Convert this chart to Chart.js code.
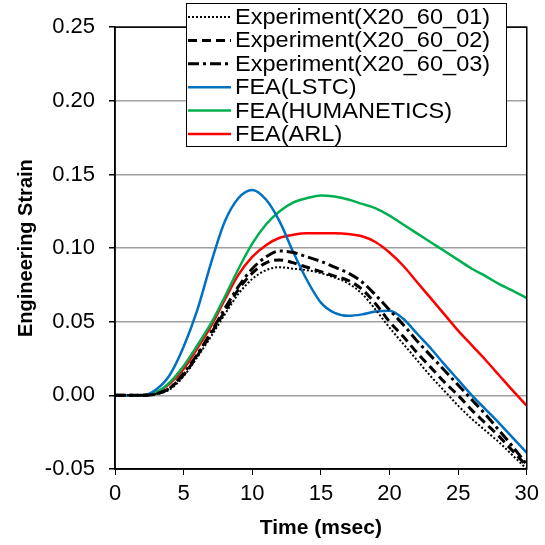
<!DOCTYPE html>
<html>
<head>
<meta charset="utf-8">
<script src="https://cdn.jsdelivr.net/npm/chart.js@4/dist/chart.umd.min.js"></script>
<style>
  html, body { margin: 0; padding: 0; background: #fff; }
  #wrap { width: 545px; height: 545px; }
</style>
</head>
<body>
<div id="wrap"><canvas id="chart" width="545" height="545"></canvas></div>
<script>
// time axis (msec) shared by every series
const TIME = [0, 1, 2, 3, 4, 5, 6, 7, 8, 9, 10, 11, 12, 13, 14, 15, 16, 17, 18, 19, 20, 21, 22, 23, 24, 25, 26, 27, 28, 29, 30];

// strain values
const EXP_01 = [0, 0, 0, 0.001, 0.004, 0.013, 0.026, 0.040, 0.055, 0.069, 0.079, 0.085, 0.087, 0.086, 0.085, 0.083, 0.080, 0.076, 0.069, 0.058, 0.046, 0.035, 0.024, 0.013, 0.003, -0.007, -0.016, -0.024, -0.032, -0.041, -0.050];
const EXP_02 = [0, 0, 0, 0.001, 0.005, 0.014, 0.027, 0.042, 0.057, 0.072, 0.083, 0.090, 0.092, 0.090, 0.087, 0.084, 0.081, 0.078, 0.072, 0.062, 0.050, 0.040, 0.029, 0.019, 0.009, 0.000, -0.010, -0.019, -0.028, -0.038, -0.048];
const EXP_03 = [0, 0, 0, 0.001, 0.005, 0.015, 0.028, 0.043, 0.059, 0.074, 0.086, 0.094, 0.098, 0.097, 0.094, 0.091, 0.087, 0.083, 0.077, 0.068, 0.058, 0.048, 0.037, 0.027, 0.017, 0.007, -0.003, -0.013, -0.024, -0.035, -0.047];
const FEA_LSTC = [0, 0, 0, 0.004, 0.014, 0.033, 0.058, 0.090, 0.118, 0.134, 0.1395, 0.133, 0.118, 0.097, 0.078, 0.063, 0.056, 0.054, 0.055, 0.057, 0.0575, 0.052, 0.042, 0.032, 0.021, 0.0105, 0.000, -0.0095, -0.019, -0.029, -0.039];
const FEA_HUMANETICS = [0, 0, 0, 0.002, 0.009, 0.020, 0.034, 0.049, 0.067, 0.086, 0.103, 0.116, 0.125, 0.131, 0.134, 0.1358, 0.135, 0.133, 0.130, 0.127, 0.122, 0.116, 0.110, 0.104, 0.098, 0.092, 0.086, 0.081, 0.0755, 0.071, 0.066];
const FEA_ARL = [0, 0, 0, 0.002, 0.008, 0.018, 0.032, 0.047, 0.065, 0.082, 0.094, 0.102, 0.107, 0.109, 0.110, 0.110, 0.110, 0.1095, 0.108, 0.104, 0.097, 0.088, 0.077, 0.066, 0.055, 0.044, 0.034, 0.024, 0.0135, 0.003, -0.007];

const LABELS = ['Experiment(X20_60_01)', 'Experiment(X20_60_02)', 'Experiment(X20_60_03)', 'FEA(LSTC)', 'FEA(HUMANETICS)', 'FEA(ARL)'];
const X_TITLE = 'Time (msec)';
const Y_TITLE = 'Engineering Strain';

const BLUE = '#0070C0', GREEN = '#00B050', RED = '#FF0000', BLACK = '#000000';
const FONT = "'Liberation Sans', Arial, sans-serif";

const pts = (vals) => TIME.map((t, i) => ({ x: t, y: vals[i] }));
const line = (label, vals, color, width, dash) => ({
  label, data: pts(vals), borderColor: color, borderWidth: width, borderDash: dash,
  pointRadius: 0, fill: false, cubicInterpolationMode: 'monotone',
});

// legend box drawn over the top of the plot, Excel style
const boxLegend = {
  id: 'boxLegend',
  afterDraw(chart) {
    const ctx = chart.ctx;
    const left = 186, top = 3, right = 506, bottom = 146, rowH = 23.4;
    ctx.save();
    ctx.fillStyle = '#fff';
    ctx.fillRect(left, top, right - left, bottom - top);
    ctx.strokeStyle = '#000'; ctx.lineWidth = 1;
    ctx.strokeRect(left + 0.5, top + 0.5, right - left, bottom - top);
    ctx.font = '22px ' + FONT;
    ctx.textBaseline = 'middle';
    chart.data.datasets.forEach((ds, i) => {
      const y = top + 14 + i * rowH;
      ctx.beginPath();
      ctx.setLineDash(ds.borderDash || []);
      ctx.strokeStyle = ds.borderColor; ctx.lineWidth = ds.borderWidth;
      ctx.moveTo(188, y); ctx.lineTo(231, y); ctx.stroke();
      ctx.setLineDash([]);
      ctx.fillStyle = '#000';
      // the source text is a little stretched sideways
      ctx.save();
      ctx.translate(235, y + 1);
      ctx.scale(1.07, 1);
      ctx.fillText(ds.label, 0, 0);
      ctx.restore();
    });
    ctx.restore();
  },
};

// black frame round the plot area
const frame = {
  id: 'frame',
  afterDatasetsDraw(chart) {
    const { ctx, chartArea: a } = chart;
    ctx.save();
    ctx.strokeStyle = '#000'; ctx.lineWidth = 1.5;
    ctx.strokeRect(a.left, a.top, a.right - a.left, a.bottom - a.top);
    ctx.restore();
  },
};

new Chart(document.getElementById('chart'), {
  type: 'line',
  data: {
    datasets: [
      line(LABELS[0], EXP_01, BLACK, 2, [2, 2]),
      line(LABELS[1], EXP_02, BLACK, 3, [9, 5]),
      line(LABELS[2], EXP_03, BLACK, 3, [11, 4, 3, 4]),
      line(LABELS[3], FEA_LSTC, BLUE, 2.5),
      line(LABELS[4], FEA_HUMANETICS, GREEN, 2.5),
      line(LABELS[5], FEA_ARL, RED, 2.5),
    ],
  },
  options: {
    responsive: false, animation: false,
    layout: { padding: { top: 25, right: 14, left: 0, bottom: 0 } },
    plugins: { legend: { display: false }, tooltip: { enabled: false } },
    scales: {
      x: {
        type: 'linear', min: 0, max: 30,
        afterFit: (s) => { s.height = 76; },
        ticks: { stepSize: 5, color: '#000', font: { family: FONT, size: 22 }, padding: 6, maxRotation: 0 },
        grid: { drawOnChartArea: false, tickColor: '#000', tickLength: 6 },
        border: { color: '#000', width: 1.5 },
        title: { display: true, text: X_TITLE, color: '#000', font: { family: FONT, size: 21, weight: 'bold' }, padding: { top: 0, bottom: 4 } },
      },
      y: {
        min: -0.05, max: 0.25,
        afterFit: (s) => { s.width = 115; },
        ticks: { stepSize: 0.05, color: '#000', font: { family: FONT, size: 22 }, padding: 14, callback: (v) => (Math.abs(v) < 1e-9 ? 0 : v).toFixed(2) },
        grid: { color: '#a0a0a0', lineWidth: 1.5, tickColor: '#000', tickLength: 6 },
        border: { color: '#000', width: 1.5 },
        title: { display: true, text: Y_TITLE, color: '#000', font: { family: FONT, size: 20, weight: 'bold' }, padding: { top: 14, bottom: 0 } },
      },
    },
  },
  plugins: [frame, boxLegend],
});
</script>
</body>
</html>
